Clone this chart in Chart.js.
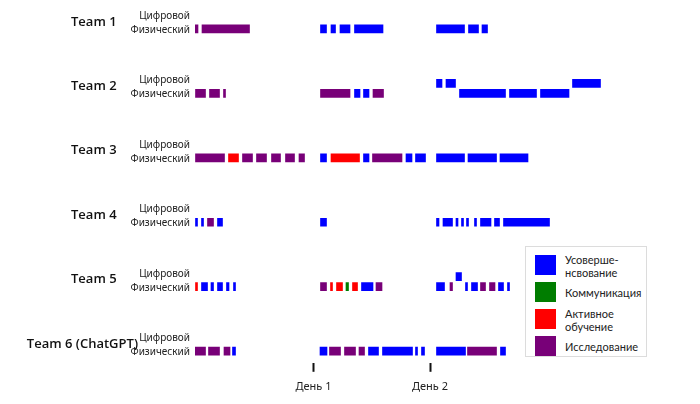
<!DOCTYPE html>
<html>
<head>
<meta charset="utf-8">
<script src="https://cdn.jsdelivr.net/npm/chart.js@4.4.0/dist/chart.umd.min.js"></script>
<style>
  body { margin: 0; background: #fff; }
  #wrap { position: relative; width: 700px; height: 404px; }
  #legend {
    position: absolute; left: 525px; top: 246px; width: 122px; height: 111px;
    border: 1px solid #dcdcdc; background: #fff; font-family: Lato, "Open Sans", sans-serif;
    font-size: 11px; color: #222; padding-top: 4px; box-sizing: border-box;
  }
  .item { display: flex; align-items: center; height: 27px; }
  .sw { width: 21px; height: 20px; margin-left: 9px; margin-right: 9px; flex: none; }
  .tx { white-space: pre-line; line-height: 13px; padding-top: 2px; }
</style>
</head>
<body>
<div id="wrap">
  <canvas id="myChart" width="700" height="404"></canvas>
  <div id="legend"></div>
</div>
<script>
// teams and rows
const teams = ['Team 1', 'Team 2', 'Team 3', 'Team 4', 'Team 5', 'Team 6 (ChatGPT)'];
const rows = ['Цифровой', 'Физический'];
const activities = ['Усоверше-\nнсвование', 'Коммуникация', 'Активное\nобучение', 'Исследование'];
const activityColors = ['#0000ff', '#007d00', '#ff0000', '#780078'];
const dayTicks = [118.5, 235];
const dayLabels = ['День 1', 'День 2'];

// segments: [team, row (0 digital, 1 physical), start, end]
const improvement = [
  [1,1,125.5,131.5],[1,1,136,140.5],[1,1,145,155],[1,1,159.5,188],[1,1,241.5,269.5],[1,1,273.5,283.5],[1,1,287,292.5],
  [2,1,159.5,165],[2,1,168.5,174],[2,1,264.5,310.5],[2,1,314.5,341.5],[2,1,345.5,374],
  [2,0,241.5,247],[2,0,251,260.5],[2,0,377.5,405.5],
  [3,1,125.5,131.5],[3,1,168.5,174],[3,1,211,217],[3,1,220.5,230.5],[3,1,241.5,269.5],[3,1,273,301.5],[3,1,305,333],
  [4,1,0.5,2.5],[4,1,6.5,8.5],[4,1,22.5,27.5],[4,1,125.5,131.5],[4,1,241.5,244],[4,1,248,257.5],[4,1,261,263],
  [4,1,266.5,268.5],[4,1,271.5,273.5],[4,1,279.5,281.5],[4,1,285.5,296],[4,1,299.5,304.5],[4,1,308.5,354.5],
  [5,1,6.5,12.5],[5,1,16,18.5],[5,1,22.5,27.5],[5,1,31.5,34],[5,1,38.5,40.5],[5,1,166.5,178],[5,1,241.5,249.5],
  [5,1,270.5,272.5],[5,1,276.5,282.5],[5,1,303.5,308.5],[5,1,312.5,314.5],
  [5,0,261,266.5],
  [6,1,37.5,40.5],[6,1,125,132],[6,1,173.5,183.5],[6,1,187.5,217.5],[6,1,220.5,222.5],[6,1,226.5,229.5],
  [6,1,241.5,270.5],[6,1,305.5,310.5]
];
const communication = [
  [5,1,151,153.5]
];
const activeLearning = [
  [3,1,33.5,43.5],[3,1,136,164.5],
  [5,1,0.5,2.5],[5,1,135.5,137.5],[5,1,141.5,147.5],[5,1,157.5,162.5]
];
const research = [
  [1,1,0,3],[1,1,7,54.5],
  [2,1,0.5,10.5],[2,1,14.5,24.5],[2,1,28.5,30.5],[2,1,125.5,155],[2,1,178,188.5],
  [3,1,0.5,29.5],[3,1,47.5,57.5],[3,1,61.5,71.5],[3,1,76.5,85.5],[3,1,90.5,99.5],[3,1,104,109.5],[3,1,177.5,207],
  [4,1,12.5,18.5],
  [5,1,125.5,131.5],[5,1,181,187],[5,1,255,257.5],[5,1,285.5,290.5],[5,1,294.5,300],
  [6,1,0,10.5],[6,1,13.5,24.5],[6,1,29,35],[6,1,134.5,145.5],[6,1,149.5,160.5],[6,1,164,169.5],[6,1,272.5,301.5]
];

const ROW_GAP = 0.155;
const rowY = (team, row) => team - (row === 0 ? ROW_GAP : 0);
const toPoints = segs => segs.map(s => ({ y: rowY(s[0], s[1]), x: [s[2], s[3]] }));

const seriesData = [improvement, communication, activeLearning, research];

const labelsPlugin = {
  id: 'rowLabels',
  afterDraw(chart) {
    const ctx = chart.ctx;
    const ys = chart.scales.y;
    ctx.save();
    ctx.textBaseline = 'middle';
    teams.forEach((t, i) => {
      const py = ys.getPixelForValue(i + 1);
      ctx.fillStyle = '#222';
      ctx.font = '10px "Noto Sans", sans-serif';
      ctx.textAlign = 'right';
      ctx.fillText(rows[0], 190, py - 13);
      ctx.fillText(rows[1], 190, py + 1);
      ctx.fillStyle = '#111';
      ctx.font = '600 13px "Open Sans", sans-serif';
      ctx.textAlign = 'left';
      const w = ctx.measureText(t).width;
      ctx.fillText(t, Math.min(71, 138 - w), py - 7);
    });
    ctx.restore();
  }
};

const ctx = document.getElementById('myChart').getContext('2d');
const myChart = new Chart(ctx, {
  type: 'bar',
  data: {
    datasets: activities.map((a, i) => ({
      label: a,
      data: toPoints(seriesData[i]),
      backgroundColor: activityColors[i],
      borderWidth: 0,
      barThickness: 8,
      grouped: false
    }))
  },
  options: {
    indexAxis: 'y',
    responsive: false,
    animation: false,
    layout: { padding: { left: 195, right: 10, top: 0, bottom: 3 } },
    plugins: {
      legend: { display: false },
      tooltip: { enabled: false }
    },
    scales: {
      y: {
        type: 'linear',
        reverse: true,
        offset: false,
        min: 0.5515,
        max: 6.181,
        display: false
      },
      x: {
        type: 'linear',
        min: 0,
        max: 495,
        border: { display: false },
        grid: { drawOnChartArea: false, drawTicks: true, tickLength: 9, tickWidth: 2, tickColor: '#111' },
        afterBuildTicks: axis => { axis.ticks = dayTicks.map(v => ({ value: v })); },
        ticks: {
          autoSkip: false,
          maxRotation: 0,
          padding: 8,
          color: '#222',
          font: { family: '"Noto Sans", sans-serif', size: 11 },
          callback: v => dayLabels[dayTicks.indexOf(v)]
        }
      }
    }
  },
  plugins: [labelsPlugin]
});

// html legend from the datasets
const legendEl = document.getElementById('legend');
myChart.data.datasets.forEach(ds => {
  const item = document.createElement('div');
  item.className = 'item';
  const sw = document.createElement('div');
  sw.className = 'sw';
  sw.style.background = ds.backgroundColor;
  const tx = document.createElement('div');
  tx.className = 'tx';
  tx.textContent = ds.label;
  item.appendChild(sw);
  item.appendChild(tx);
  legendEl.appendChild(item);
});
</script>
</body>
</html>
